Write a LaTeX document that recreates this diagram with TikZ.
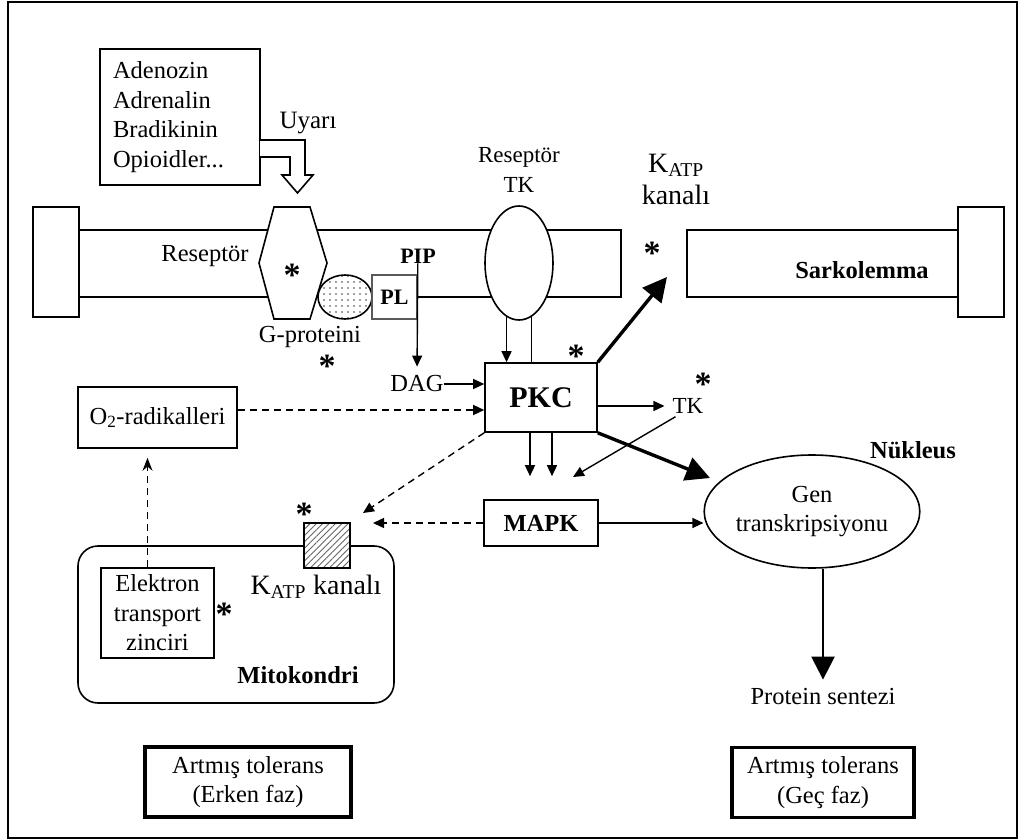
\documentclass[tikz,border=0pt]{standalone}
\usepackage{fontspec}
\setmainfont{Liberation Serif}
\usepackage{tikz}
\usetikzlibrary{arrows.meta, shapes.geometric, patterns.meta}

\tikzset{
  lbl/.style={font=\fontsize{24.5}{29.5}\selectfont, inner sep=0pt, align=center},
  blbl/.style={lbl, font=\fontsize{24.5}{29.5}\selectfont\bfseries},
  biglbl/.style={lbl, font=\fontsize{28}{32}\selectfont},
  box/.style={lbl, rectangle, draw, line width=1.6pt, fill=white},
  tolbox/.style={box, line width=3.5pt, minimum height=70pt},
  ast/.style={font=\fontsize{34}{34}\selectfont\bfseries, inner sep=0pt, yshift=-6pt},
  arr/.style={-{Triangle[length=11pt,width=10pt]}, line width=1.4pt},
  thickarr/.style={-{Triangle[length=24pt,width=24pt]}, line width=3.4pt},
  darr/.style={arr, dash pattern=on 7pt off 5pt},
}

\begin{document}
\begin{tikzpicture}[x=1pt, y=-1pt]
\useasboundingbox (0,0) rectangle (1021,840);
\draw[line width=2pt] (8,2) rectangle (1017,838);

\draw[line width=1.6pt] (33,207) rectangle (79,317)
                        (79,230) rectangle (621,297)
                        (687,230) rectangle (958,297)
                        (958,207) rectangle (1004,317);

\node[box, align=left, minimum width=160pt, minimum height=136pt, text width=134pt] (ligand) at (180,117) {Adenozin\\Adrenalin\\Bradikinin\\Opioidler...};
\draw[line width=1.6pt, fill=white] (260,140) -- (305,140) -- (305,175) -- (313,175) -- (297.5,193)
      -- (282,175) -- (290,175) -- (290,157) -- (260,157);
\node[lbl, font=\fontsize{25}{29}\selectfont] (uyari) at (308,123) {Uyarı};

\draw[line width=1.6pt, fill=white] (274,207) -- (310,207) -- (327,263) -- (310,319) -- (274,319) -- (259,263) -- cycle;
\node[ast] (ast1) at (292,269) {*};
\node[ellipse, draw, line width=1.6pt, inner sep=0, minimum width=54pt, minimum height=44pt, preaction={fill=white}, pattern={Dots[distance=6pt, radius=0.8pt]}, pattern color=black!75] (gprot) at (345,297) {};
\node[box, draw=black!65, inner sep=0, minimum width=45pt, minimum height=44pt, font=\fontsize{22}{26}\selectfont\bfseries] (pl) at (394.5,297) {PL};
\node[ellipse, draw, line width=1.6pt, fill=white, inner sep=0, minimum width=68pt, minimum height=114pt] (tkrec) at (519,263) {};

\node[lbl] (resep) at (205,256) {Reseptör};
\node[lbl] (glbl) at (310,337) {G-proteini};
\node[ast] (ast2) at (327,360) {*};
\node[blbl, font=\fontsize{22}{26}\selectfont\bfseries] (pip) at (418,256) {PIP};
\node[lbl] (dag) at (417,384) {DAG};
\node[lbl, font=\fontsize{23}{30}\selectfont] (tklbl) at (519,170) {Reseptör\\TK};
\node[biglbl] (katplbl) at (676,179) {K\textsubscript{ATP}\\kanalı};
\node[ast] (ast3) at (652,247) {*};
\node[blbl] (sarko) at (862,270) {Sarkolemma};

\node[box, minimum width=112pt, minimum height=69pt, font=\fontsize{30}{34}\selectfont\bfseries] (pkc) at (541,397.5) {PKC};
\node[ast] (ast4) at (576,350) {*};
\node[box, minimum width=159pt, minimum height=61pt] (o2) at (157.5,417.5) {O\textsubscript{2}-radikalleri};
\node[lbl, font=\fontsize{23}{28}\selectfont] (tk) at (688,406) {TK};
\node[ast] (ast5) at (703,378) {*};
\node[box, minimum width=114pt, minimum height=46pt, font=\fontsize{24.5}{29.5}\selectfont\bfseries] (mapk) at (541,523) {MAPK};
\node[blbl] (nukleus) at (913,450) {Nükleus};
\node[ellipse, draw, line width=1.6pt, lbl, inner sep=0, minimum width=202pt, minimum height=113pt] (gen) at (812,511.5) {Gen\\transkripsiyonu};
\node[lbl] (protein) at (823,697) {Protein sentezi};

\node[draw, line width=1.6pt, rounded corners=20pt, inner sep=0, minimum width=316pt, minimum height=157pt] (mito) at (236,624.5) {};
\node[box, line width=1.2pt, minimum width=113pt, minimum height=90pt] (etc) at (157.5,613) {Elektron\\transport\\zinciri};
\node[ast] (ast6) at (224,608) {*};
\node[draw, line width=1.8pt, inner sep=0, minimum width=46pt, minimum height=45pt, preaction={fill=white}, pattern={Lines[angle=45, distance=4.5pt, line width=0.9pt]}, pattern color=black!60] (katp) at (327,545.5) {};
\node[ast] (ast7) at (304,508) {*};
\node[biglbl] (katpmito) at (316,587) {K\textsubscript{ATP} kanalı};
\node[blbl] (mitolbl) at (298,675) {Mitokondri};

\node[tolbox, minimum width=206pt] (erken) at (248,782) {Artmış tolerans\\(Erken faz)};
\node[tolbox, minimum width=182pt] (gec) at (823,782.5) {Artmış tolerans\\(Geç faz)};

\coordinate (katpgap) at (667,277);
\coordinate (genin) at (710,478);
\coordinate (tkin) at (573,477);
\coordinate (kin1) at (363,513);
\coordinate (kin2) at (373,523);

\draw[arr, shorten >=9pt] (pip.south -| pl.east) -- (dag.north);
\draw[arr] (dag.east) -- (dag.east -| pkc.west);
\draw[arr] (tkrec.-103) -- (tkrec.-103 |- pkc.north);
\draw[line width=1.4pt] (tkrec.-77) -- (tkrec.-77 |- pkc.north);
\draw[thickarr] (pkc.north east) -- (katpgap);
\draw[thickarr] (pkc.south east) -- (genin);
\draw[arr, shorten >=8pt] (pkc.east |- tk.west) -- (tk.west);
\draw[arr] ([xshift=-11pt]pkc.south) -- ([xshift=-11pt, yshift=23pt]mapk.north);
\draw[arr] ([xshift=11pt]pkc.south) -- ([xshift=11pt, yshift=23pt]mapk.north);
\draw[arr] ([xshift=3pt, yshift=-3pt]tk.south west) -- (tkin);
\draw[arr] (mapk.east) -- (mapk.east -| gen.west);
\draw[thickarr, line width=2.6pt, -{Triangle[length=23pt,width=23pt]}] (protein.north |- gen.south) -- ([yshift=9pt]protein.north);

\draw[darr] ([yshift=7.5pt]o2.east) -- ([yshift=7.5pt]o2.east -| pkc.west);
\draw[darr] (pkc.south west) -- (kin1);
\draw[darr] (mapk.west) -- (kin2);
\draw[darr, -{Stealth[length=13pt,width=10pt]}, shorten >=9pt] ([xshift=-10pt]etc.north) -- ([xshift=-10pt]o2.south);
\end{tikzpicture}
\end{document}
